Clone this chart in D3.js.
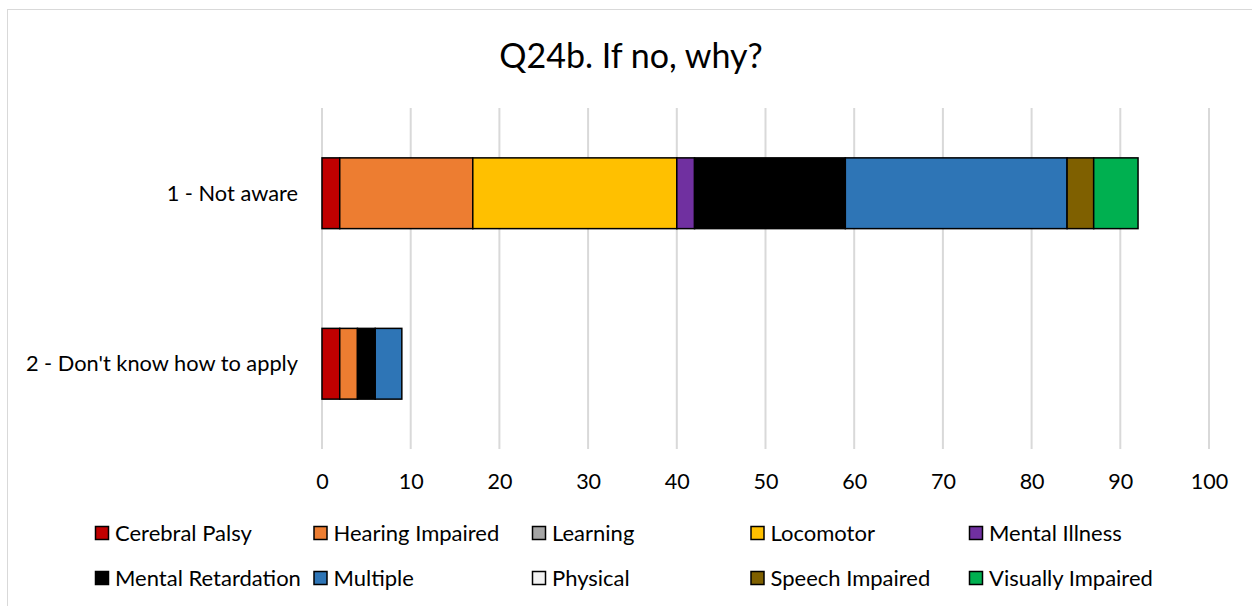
<!DOCTYPE html>
<html><head><meta charset="utf-8">
<script src="https://cdn.jsdelivr.net/npm/d3@7"></script>
<style>body{margin:0;background:#fff}svg{display:block}text{font-family:Lato,"Open Sans",sans-serif;fill:#000}</style>
</head><body><svg id="c" width="1252" height="606"></svg>
<script>
const categories = ["1 - Not aware", "2 - Don't know how to apply"];
const seriesNames = ["Cerebral Palsy","Hearing Impaired","Learning","Locomotor","Mental Illness","Mental Retardation","Multiple","Physical","Speech Impaired","Visually Impaired"];
const seriesColors = ["#c00000","#ed7d31","#a5a5a5","#ffc000","#7030a0","#000000","#2e75b6","#f2f2f2","#7f6000","#00b050"];
const cerebralPalsy = [2, 2];
const hearingImpaired = [15, 2];
const learning = [0, 0];
const locomotor = [23, 0];
const mentalIllness = [2, 0];
const mentalRetardation = [17, 2];
const multiple = [25, 3];
const physical = [0, 0];
const speechImpaired = [3, 0];
const visuallyImpaired = [5, 0];
const xTicks = [0,10,20,30,40,50,60,70,80,90,100];
const title = "Q24b. If no, why?";

const seriesValues = [cerebralPalsy, hearingImpaired, learning, locomotor, mentalIllness, mentalRetardation, multiple, physical, speechImpaired, visuallyImpaired];
const rows = categories.map((c,i)=>{const o={cat:c}; seriesNames.forEach((s,j)=>o[s]=seriesValues[j][i]); return o;});
const stacked = d3.stack().keys(seriesNames)(rows);

const svg = d3.select("#c");
svg.append("rect").attr("x",7.5).attr("y",9.5).attr("width",1300).attr("height",700).attr("fill","#fff").attr("stroke","#d9d9d9").attr("stroke-width",1);

const pL=322, pR=1209, pT=108, pB=449;
const x = d3.scaleLinear().domain([0,100]).range([pL,pR]);
const y = d3.scaleBand().domain(categories).range([pT,pB]).paddingInner(0.585).paddingOuter(0.2925);

svg.append("g").selectAll("line").data(xTicks).join("line")
  .attr("x1",d=>x(d)).attr("x2",d=>x(d)).attr("y1",pT).attr("y2",pB)
  .attr("stroke","#d9d9d9").attr("stroke-width",2);

svg.append("text").attr("x",631).attr("y",68).attr("text-anchor","middle").style("font-size","34px").text(title);

const g = svg.append("g");
stacked.forEach((layer,j)=>{
  g.selectAll(null).data(layer.filter(d=>d[1]-d[0]>0)).join("rect")
    .attr("x",d=>x(d[0])).attr("width",d=>x(d[1])-x(d[0]))
    .attr("y",d=>y(d.data.cat)).attr("height",y.bandwidth())
    .attr("fill",seriesColors[j]).attr("stroke","#000").attr("stroke-width",1.5);
});

const xAxis = d3.axisBottom(x).tickValues(xTicks).tickSize(0).tickPadding(0);
const ax = svg.append("g").attr("transform",`translate(0,${pB})`).call(xAxis);
ax.select(".domain").remove();
ax.selectAll("text").attr("y",40).attr("dy",0).style("font-size","21.5px").style("font-family","Lato,'Open Sans',sans-serif").attr("fill","#000");

const yAxis = d3.axisLeft(y).tickSize(0).tickPadding(0);
const ay = svg.append("g").attr("transform",`translate(298,0)`).call(yAxis);
ay.select(".domain").remove();
ay.selectAll("text").attr("dy","0.35em").style("font-size","21.8px").style("font-family","Lato,'Open Sans',sans-serif").attr("fill","#000");

const leg = svg.append("g");
seriesNames.forEach((s,i)=>{
  const col=i%5, row=Math.floor(i/5);
  const lx=95+col*218.5, ly=533+row*45;
  leg.append("rect").attr("x",lx+0.5).attr("y",ly-6.5).attr("width",13).attr("height",13)
    .attr("fill",seriesColors[i]).attr("stroke","#000").attr("stroke-width",1.5);
  leg.append("text").attr("x",lx+20).attr("y",ly).attr("dy","0.35em").style("font-size","22px").text(s);
});
</script></body></html>
